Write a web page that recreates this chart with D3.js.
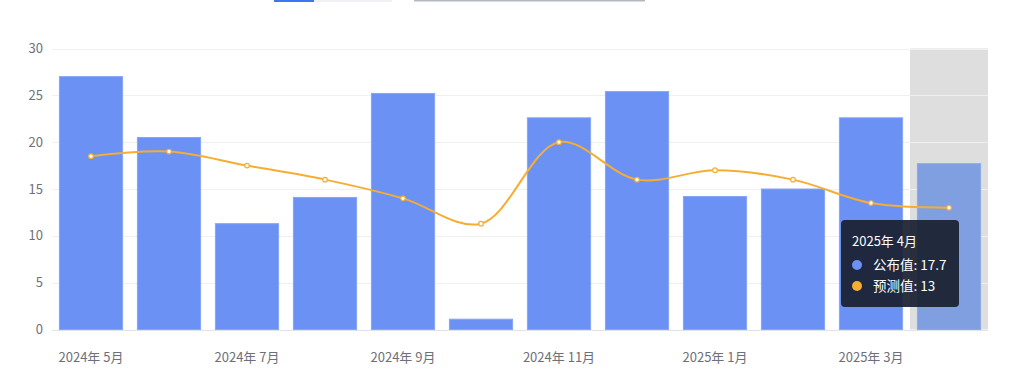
<!DOCTYPE html>
<html><head><meta charset="utf-8">
<script src="https://cdn.jsdelivr.net/npm/d3@7/dist/d3.min.js"></script>
<style>body{margin:0;background:#fff;}svg{display:block;font-family:"Noto Sans CJK SC","Noto Sans",sans-serif;}</style>
</head><body>
<svg id="c" width="1014" height="387"></svg>
<script>
const categories = ["2024年 5月","2024年 6月","2024年 7月","2024年 8月","2024年 9月","2024年 10月","2024年 11月","2024年 12月","2025年 1月","2025年 2月","2025年 3月","2025年 4月"];
const published = [27.0, 20.5, 11.3, 14.1, 25.2, 1.1, 22.6, 25.4, 14.2, 15.0, 22.6, 17.7];
const forecast = [18.5, 19, 17.5, 16, 14, 11.3, 20, 16, 17, 16, 13.5, 13];
const yTicks = [0, 5, 10, 15, 20, 25, 30];
const seriesNames = ["公布值", "预测值"];
const hoverIndex = 11;

const svg = d3.select("#c");
const pLeft = 52, pRight = 988, pTop = 48.5, pBottom = 329.5;
const x = d3.scaleBand().domain(categories).range([pLeft, pRight]).paddingInner(0.19).paddingOuter(0.095);
const xb = d3.scaleBand().domain(categories).range([pLeft, pRight]);
const y = d3.scaleLinear().domain([0, 30]).range([pBottom, pTop]);

// top partial controls
svg.append("rect").attr("x",274).attr("y",0).attr("width",40).attr("height",2).attr("fill","#3a78f2");
svg.append("rect").attr("x",314).attr("y",0).attr("width",78).attr("height",2).attr("fill","#eef0f5");
svg.append("rect").attr("x",414).attr("y",0).attr("width",231).attr("height",1.5).attr("fill","#b3b7c4");

// hover band
svg.append("rect").attr("x", xb(categories[hoverIndex])).attr("y", pTop).attr("width", xb.bandwidth()).attr("height", pBottom-pTop).attr("fill","#dedede");

// grid
svg.append("g").selectAll("line").data(yTicks).join("line")
  .attr("x1", pLeft).attr("x2", pRight).attr("y1", d=>Math.round(y(d))+0.5).attr("y2", d=>Math.round(y(d))+0.5)
  .attr("stroke", d=>d===0?"#e0e3ea":"#f0f0f0").attr("stroke-width",1);

// y axis labels
svg.append("g").selectAll("text").data(yTicks).join("text")
  .attr("x", 43).attr("y", d=>y(d)).attr("dy","0.35em").attr("text-anchor","end")
  .attr("font-size",13).attr("fill","#6e7079").text(d=>d);

// x labels
svg.append("g").selectAll("text").data(categories.filter((d,i)=>i%2===0)).join("text")
  .attr("x", d=>xb(d)+xb.bandwidth()/2).attr("y", 357).attr("dy","0.35em").attr("text-anchor","middle")
  .attr("font-size",13).attr("fill","#6e7079").text(d=>d);

// bars
svg.append("g").selectAll("rect").data(published).join("rect")
  .attr("x",(d,i)=>x(categories[i])).attr("width",x.bandwidth())
  .attr("y",d=>y(d)).attr("height",d=>y(0)-y(d))
  .attr("fill",(d,i)=>i===hoverIndex?"#7f9fe0":"#6b91f5")
  .attr("stroke",(d,i)=>i===hoverIndex?"#8ea9e8":"#87a4f7").attr("stroke-width",1);

// line
const cx = i => xb(categories[i]) + xb.bandwidth()/2;
const line = d3.line().x((d,i)=>cx(i)).y(d=>y(d)).curve(d3.curveCatmullRom.alpha(0.5));
svg.append("path").attr("d", line(forecast)).attr("fill","none").attr("stroke","#f5ae32").attr("stroke-width",2);
svg.append("g").selectAll("circle").data(forecast).join("circle")
  .attr("cx",(d,i)=>cx(i)).attr("cy",d=>y(d)).attr("r",2.3)
  .attr("fill","#fff").attr("stroke","#f5ae32").attr("stroke-width",1.2);

// tooltip
const tt = svg.append("g").attr("transform","translate(841,220)");
tt.append("rect").attr("width",118).attr("height",87).attr("rx",4).attr("fill","#1a2030").attr("opacity",0.93);
tt.append("text").attr("x",11).attr("y",21).attr("dy","0.35em").attr("font-size",13).attr("fill","#fff").text(categories[hoverIndex]);
const colors = ["#6b91f5","#f5ae32"];
const vals = [published[hoverIndex], forecast[hoverIndex]];
seriesNames.forEach((n,k)=>{
  tt.append("circle").attr("cx",16).attr("cy",45+k*21).attr("r",5).attr("fill",colors[k]);
  tt.append("text").attr("x",32).attr("y",45+k*21).attr("dy","0.35em").attr("font-size",13.5).attr("fill","#fff").text(n+": "+vals[k]);
});
</script>
</body></html>
